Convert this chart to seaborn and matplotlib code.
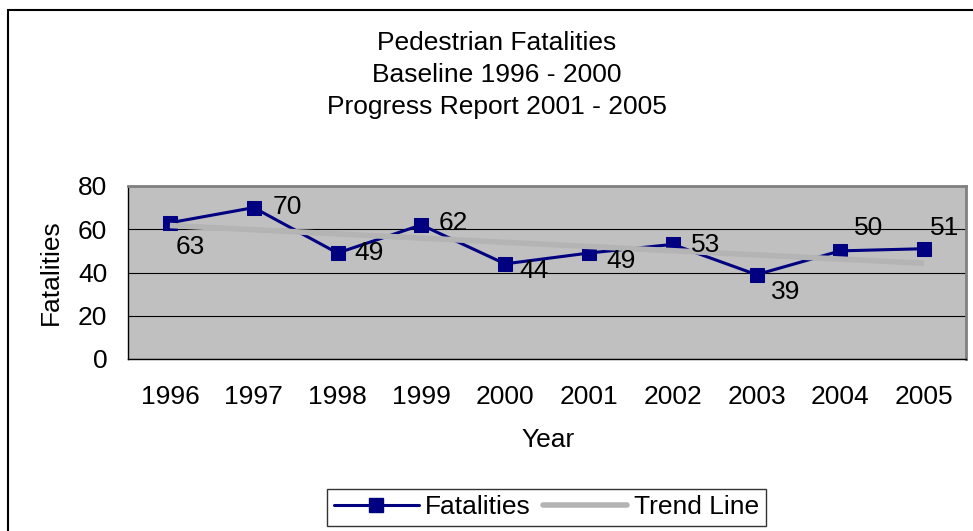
import numpy as np
import pandas as pd
import matplotlib
matplotlib.use("Agg")
import matplotlib.pyplot as plt
import matplotlib.patches as mpatches
from matplotlib.lines import Line2D
import seaborn as sns

# ── Data ─────────────────────────────────────────────────────────────────────
years = [1996, 1997, 1998, 1999, 2000, 2001, 2002, 2003, 2004, 2005]
fatalities = [63, 70, 49, 62, 44, 49, 53, 39, 50, 51]
y_ticks = [0, 20, 40, 60, 80]

title_lines = ["Pedestrian Fatalities", "Baseline 1996 - 2000", "Progress Report 2001 - 2005"]

# label offsets in pixels (style only)
label_offsets = [(20, -24), (34, 1), (32, 0), (32, 2), (29, -7),
                 (32, -8), (33, -1), (29, -17), (28, 23), (20, 21)]

# ── Style ────────────────────────────────────────────────────────────────────
sns.set_theme(style="white")
plt.rcParams["font.family"] = ["Liberation Sans", "DejaVu Sans"]
plt.rcParams.update({"text.color": "black", "axes.labelcolor": "black",
                     "xtick.color": "black", "ytick.color": "black"})
FS = 19
NAVY = "#000080"
TREND = "#B4B4B4"

W, H = 973, 531
fig = plt.figure(figsize=(W / 100, H / 100), dpi=100)
fig.patch.set_facecolor("white")

ax = fig.add_axes([128 / W, 1 - 359 / H, 838 / W, 173 / H])
ax.set_facecolor("#C0C0C0")

df = pd.DataFrame({"pos": np.arange(len(years)), "Fatalities": fatalities})

# trend line (least squares, like the spreadsheet trendline)
z = np.polyfit(df["pos"], df["Fatalities"], 1)
trend = np.poly1d(z)(df["pos"])

sns.lineplot(data=df, x="pos", y="Fatalities", ax=ax, color=NAVY, linewidth=2.2,
             marker="s", markersize=10, markeredgecolor=NAVY, zorder=3)
ax.plot(df["pos"], trend, color=TREND, linewidth=4, zorder=4,
        solid_capstyle="butt")

for (x, y), (dx, dy) in zip(zip(df["pos"], df["Fatalities"]), label_offsets):
    ax.annotate(str(y), (x, y), xytext=(dx, dy), textcoords="offset pixels",
                ha="center", va="center", fontsize=FS, color="black", zorder=5)

# axes
ax.set_xlim(-0.5, len(years) - 0.5)
ax.set_ylim(0, 80)
ax.set_yticks(y_ticks)
ax.set_xticks(np.arange(len(years)))
ax.set_xticklabels([str(y) for y in years], fontsize=FS)
ax.set_xticks(np.arange(len(years) + 1) - 0.5, minor=True)
ax.tick_params(axis="x", which="major", length=0, pad=19)
ax.tick_params(axis="x", which="minor", length=8, width=1, color="black", direction="out")
ax.tick_params(axis="y", which="major", length=6, width=1, color="black",
               direction="out", pad=9, labelsize=FS)
ax.set_xlabel("")
ax.set_ylabel("")

ax.grid(axis="y", color="black", linewidth=0.8)
ax.grid(axis="x", visible=False)
ax.set_axisbelow(True)

for side in ["left", "bottom"]:
    ax.spines[side].set_color("black")
    ax.spines[side].set_linewidth(1.0)
for side in ["top", "right"]:
    ax.spines[side].set_color("#808080")
    ax.spines[side].set_linewidth(2.0)

# titles and axis labels
fig.text(497 / W, 1 - 75 / H, "\n".join(title_lines), ha="center", va="center",
         fontsize=FS, linespacing=1.41)
fig.text(51 / W, 1 - 272 / H, "Fatalities", rotation=90, ha="center", va="center", fontsize=FS)
fig.text(548 / W, 1 - 440 / H, "Year", ha="center", va="center", fontsize=FS)

# legend
handles = [
    Line2D([0], [0], color=NAVY, linewidth=2.2, marker="s", markersize=10),
    Line2D([0], [0], color=TREND, linewidth=4),
]
leg = fig.legend(handles, ["Fatalities", "Trend Line"], loc="center",
                 bbox_to_anchor=(546.5 / W, 1 - 507.5 / H), ncol=2, fontsize=FS,
                 frameon=True, fancybox=False, handlelength=3.2, handletextpad=0.25,
                 columnspacing=0.45, borderpad=0.25, borderaxespad=0)
leg.get_frame().set_edgecolor("black")
leg.get_frame().set_linewidth(1.0)

# outer chart border
fig.patches.append(mpatches.Rectangle((8 / W, -0.1), 2, 1.1 - 10 / H, transform=fig.transFigure,
                                      fill=False, edgecolor="black", linewidth=1.5))

fig.savefig("out.png", dpi=100)
